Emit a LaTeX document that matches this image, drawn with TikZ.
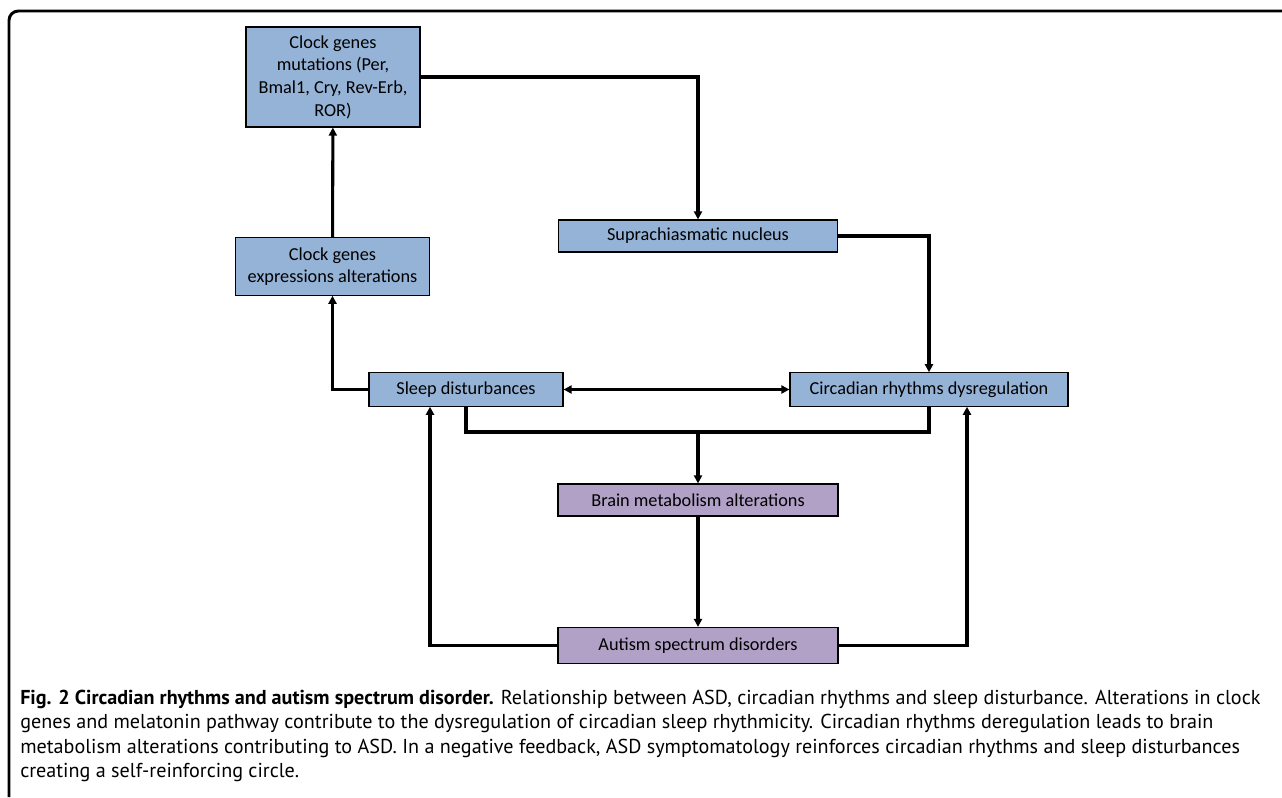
\documentclass[tikz,border=0pt]{standalone}
\usepackage{fontspec}
\setmainfont{Carlito}
\newfontfamily\capfont{PT Sans}
\usetikzlibrary{arrows.meta}

\definecolor{boxblue}{HTML}{95B3D7}
\definecolor{boxpurple}{HTML}{B2A1C7}

\tikzset{
  blk/.style={draw=black, line width=0.9pt, rectangle, inner sep=0pt, align=center,
    font=\fontsize{13.7}{17}\selectfont},
  bluebox/.style={blk, fill=boxblue},
  purplebox/.style={blk, fill=boxpurple},
  link/.style={line width=2.3pt},
  arr/.style={link, -{Triangle[length=6pt,width=6pt]}},
  dblarr/.style={link, {Triangle[length=6pt,width=6pt]}-{Triangle[length=6pt,width=6pt]}}
}

\begin{document}
\begin{tikzpicture}[x=0.75pt,y=-0.75pt]
\useasboundingbox (0,0) rectangle (1282,797);

\draw [line width=2.2pt, rounded corners=7pt] (9,797) |- (1282,11);

\node [bluebox, minimum width=130.5pt, minimum height=75pt] (clkmut) at (333,77)
  {Clock genes\\ mutations (Per,\\ Bmal1, Cry, Rev-Erb,\\ ROR)};
\node [bluebox, minimum width=146pt, minimum height=43pt] (clkexp) at (332.5,266.5)
  {Clock genes\\ expressions alterations};
\node [bluebox, minimum width=209pt, minimum height=24pt] (scn) at (698,236) {Suprachiasmatic nucleus};
\node [bluebox, minimum width=145.5pt, minimum height=25pt] (sleep) at (466,389.5) {Sleep disturbances};
\node [bluebox, minimum width=208.5pt, minimum height=25pt] (circ) at (929,389.5) {Circadian rhythms dysregulation};
\node [purplebox, minimum width=210pt, minimum height=24pt] (brain) at (698,500) {Brain metabolism alterations};
\node [purplebox, minimum width=210pt, minimum height=27pt] (asd) at (698,645.5) {Autism spectrum disorders};
\coordinate (join) at (698,432);

\draw [arr] (clkexp) -- (clkmut);
\draw [arr] (clkmut.east) -| (scn.north);
\draw [arr] (scn.east) -| (circ.north);
\draw [arr] (sleep.west) -| (clkexp.south);
\draw [dblarr] (sleep) -- (circ);
\draw [link] (sleep.south) |- (join) -| (circ.south);
\draw [arr] (join) -- (brain);
\draw [arr] (brain) -- (asd);
\draw [arr] (asd.west) -| ([xshift=-27pt]sleep.south);
\draw [arr] (asd.east) -| ([xshift=28.5pt]circ.south);

\node [anchor=north west, align=left, inner sep=0pt, font=\capfont\fontsize{15.1}{18.2}\selectfont] (cap) at (20,690)
  {\textbf{Fig. 2 Circadian rhythms and autism spectrum disorder.} Relationship between ASD, circadian rhythms and sleep disturbance. Alterations in clock\\
   genes and melatonin pathway contribute to the dysregulation of circadian sleep rhythmicity. Circadian rhythms deregulation leads to brain\\
   metabolism alterations contributing to ASD. In a negative feedback, ASD symptomatology reinforces circadian rhythms and sleep disturbances\\
   creating a self-reinforcing circle.};

\end{tikzpicture}
\end{document}
